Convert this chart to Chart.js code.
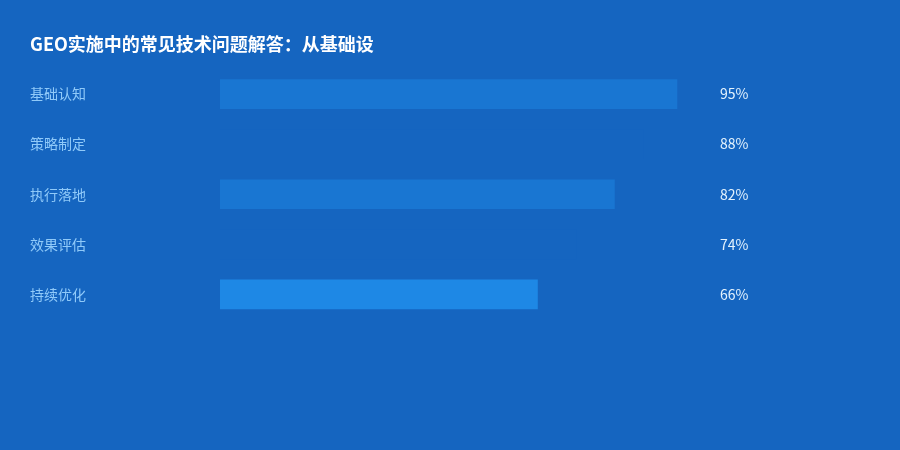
<!DOCTYPE html>
<html lang="zh">
<head>
<meta charset="utf-8">
<title>GEO实施中的常见技术问题解答</title>
<script src="https://cdn.jsdelivr.net/npm/chart.js@4.4.1/dist/chart.umd.min.js"></script>
<style>
  html, body { margin: 0; padding: 0; background: #1565C0; }
  #wrap { width: 900px; height: 450px; position: relative; }
</style>
</head>
<body>
<div id="wrap"><canvas id="chart"></canvas></div>
<script>
const TITLE = 'GEO实施中的常见技术问题解答：从基础设';
const CATEGORIES = ['基础认知', '策略制定', '执行落地', '效果评估', '持续优化'];
const VALUES = [95, 88, 82, 74, 66];
const BAR_COLORS = ['#1976D2', '#1565C0', '#1976D2', '#1565C0', '#1E88E5'];

const FONT = '"Noto Sans CJK SC", "Noto Sans", sans-serif';

// value labels to the right of the plot area
const valueLabels = {
  id: 'valueLabels',
  afterDatasetsDraw(chart) {
    const { ctx, scales: { y } } = chart;
    ctx.save();
    ctx.font = `14px ${FONT}`;
    ctx.fillStyle = '#E3F2FD';
    ctx.textAlign = 'left';
    ctx.textBaseline = 'middle';
    VALUES.forEach((v, i) => {
      ctx.fillText(`${v}%`, 720, y.getPixelForValue(i));
    });
    ctx.restore();
  },
};

new Chart(document.getElementById('chart'), {
  type: 'bar',
  data: {
    labels: CATEGORIES,
    datasets: [{
      data: VALUES,
      backgroundColor: BAR_COLORS,
      borderWidth: 0,
      barThickness: 29,
    }],
  },
  options: {
    indexAxis: 'y',
    responsive: true,
    maintainAspectRatio: false,
    animation: false,
    layout: { padding: { left: 30, right: 199, top: 33, bottom: 130.5 } },
    plugins: {
      legend: { display: false },
      tooltip: { enabled: false },
      title: {
        display: true,
        text: TITLE,
        align: 'start',
        color: '#FFFFFF',
        font: { family: FONT, size: 18, weight: 'bold', lineHeight: 1.2 },
        padding: { top: 0, bottom: 14.4 },
      },
    },
    scales: {
      x: { min: 0, max: 100, display: false },
      y: {
        grid: { display: false },
        border: { display: false },
        ticks: {
          color: '#90CAF9',
          crossAlign: 'far',
          padding: 0,
          font: { family: FONT, size: 14 },
        },
        afterFit(scale) { scale.width = 190; },
      },
    },
  },
  plugins: [valueLabels],
});
</script>
</body>
</html>
